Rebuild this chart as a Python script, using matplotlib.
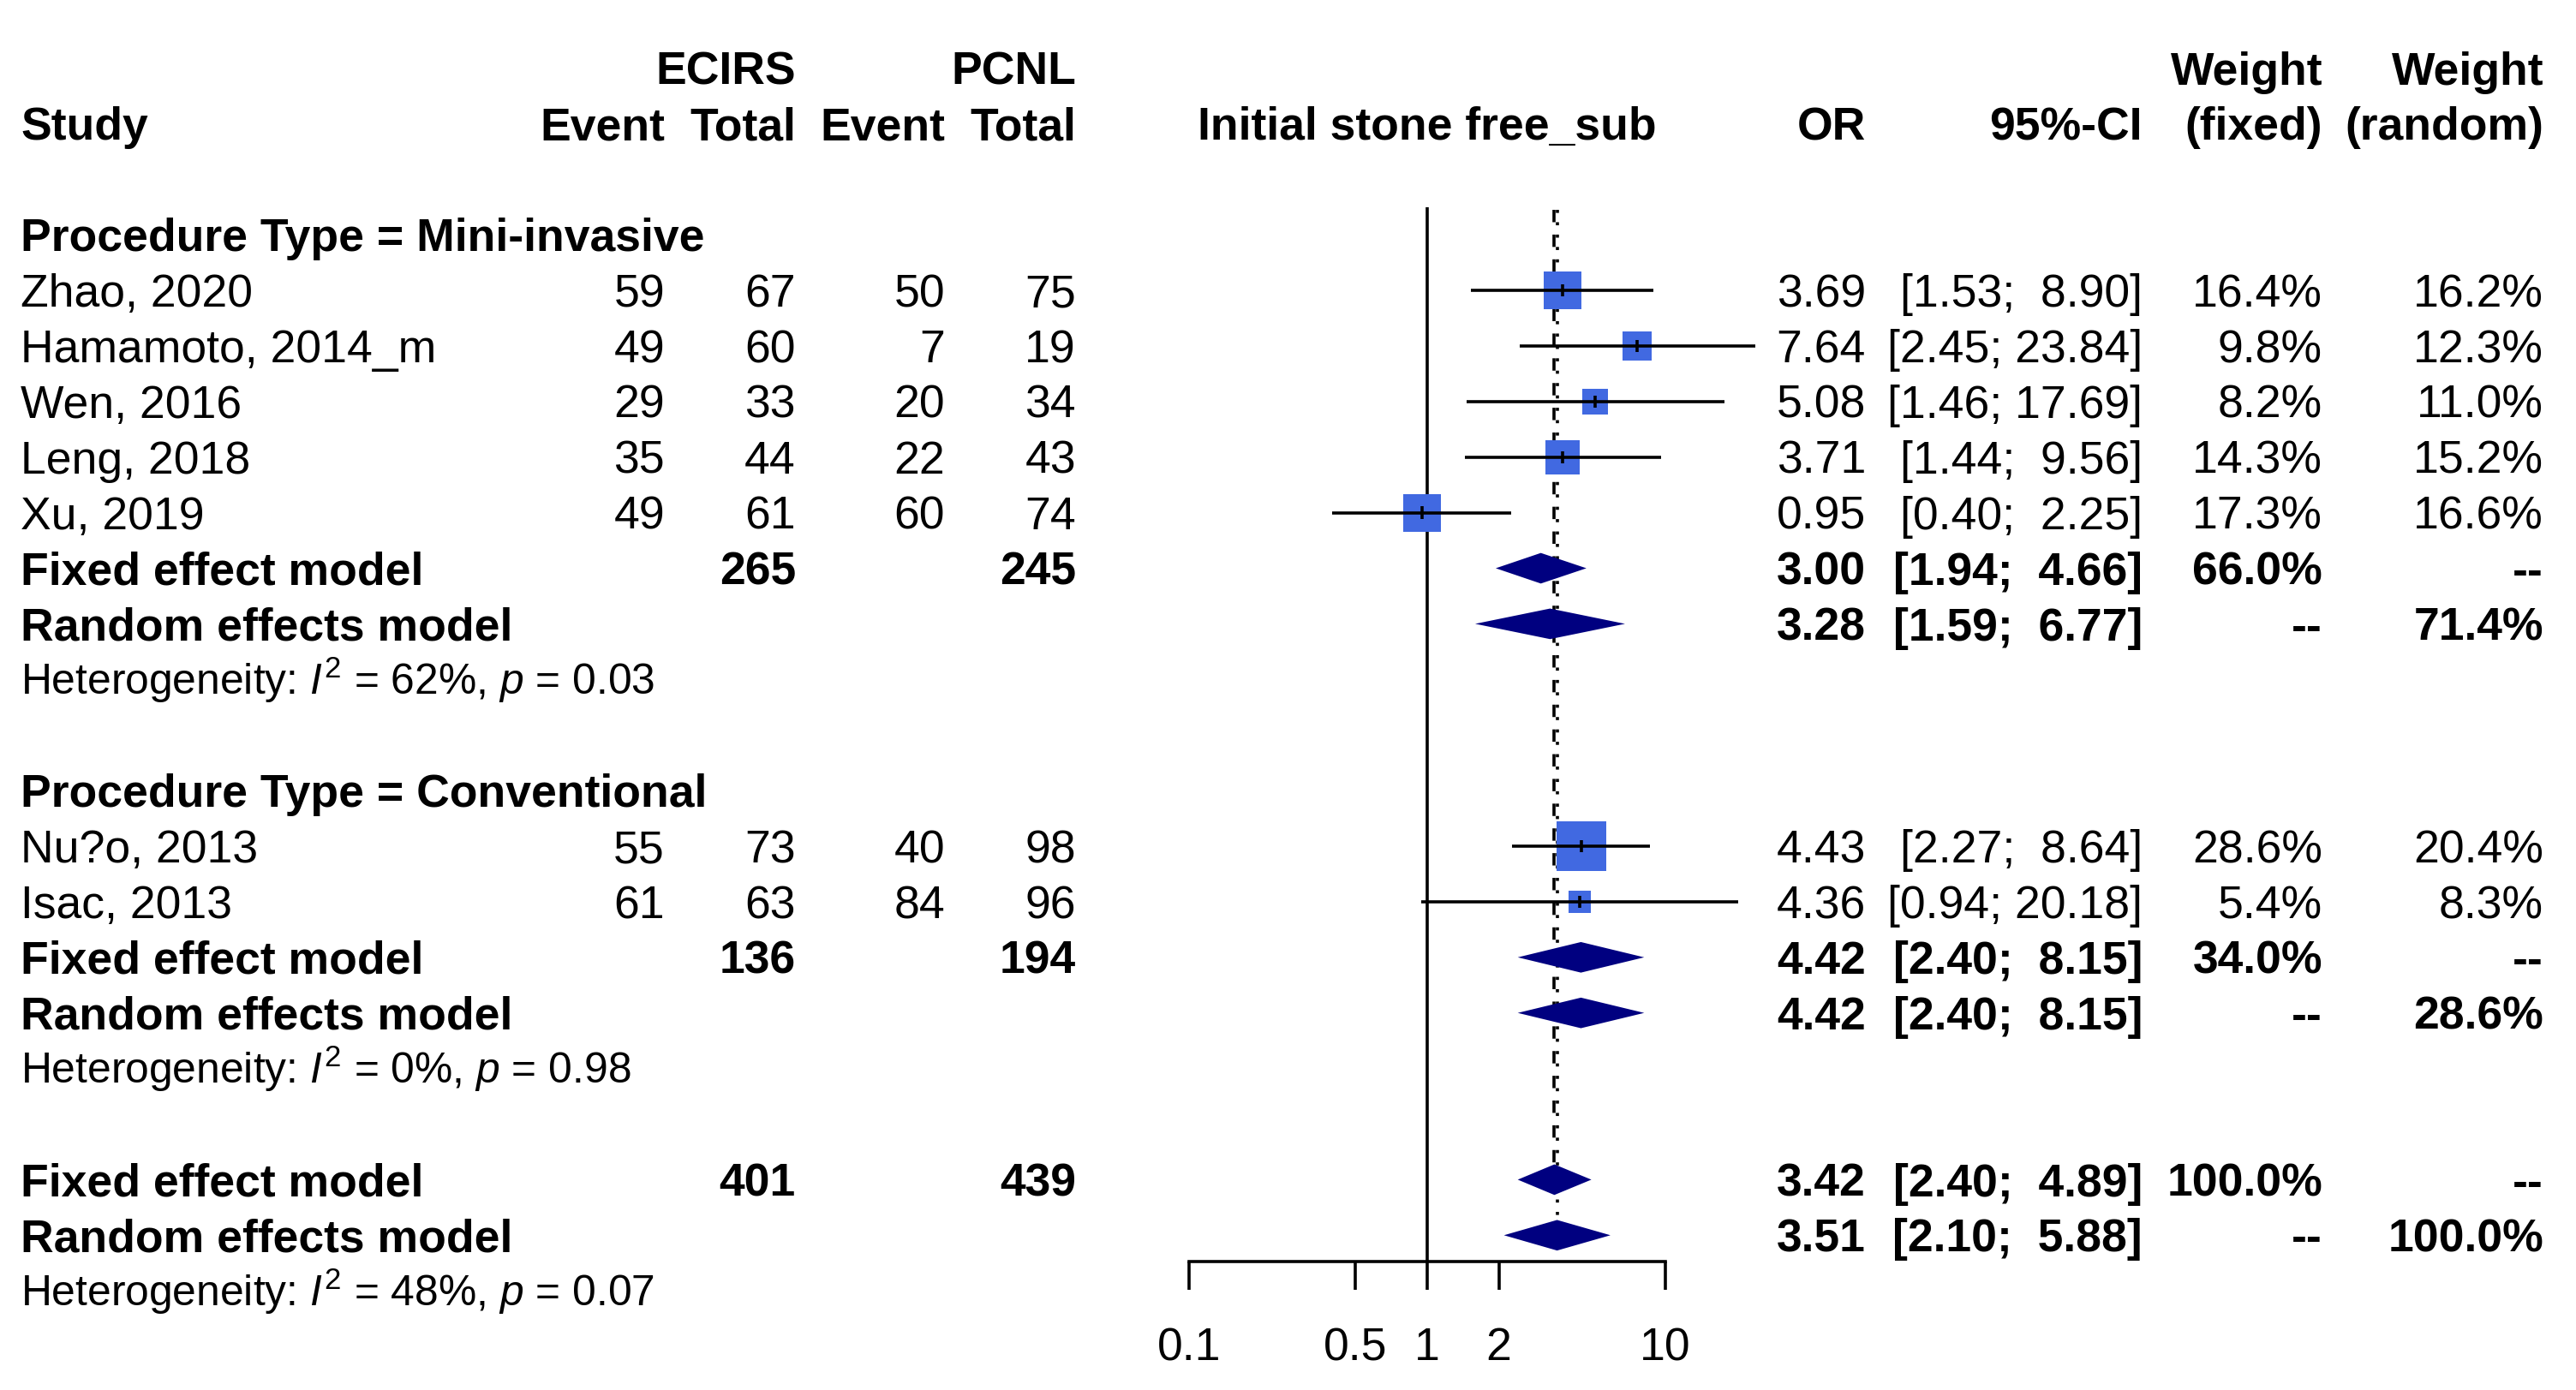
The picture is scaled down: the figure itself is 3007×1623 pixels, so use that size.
import numpy as np
import matplotlib.pyplot as plt

plt.rcParams['font.family'] = 'Liberation Sans'
plt.rcParams['mathtext.fontset'] = 'custom'
plt.rcParams['mathtext.rm'] = 'Liberation Sans'
plt.rcParams['mathtext.it'] = 'Liberation Sans:italic'

# ---- data ----
study = ["Zhao, 2020", "Hamamoto, 2014_m", "Wen, 2016", "Leng, 2018", "Xu, 2019",
         "Nu?o, 2013", "Isac, 2013"]
group = ["Mini-invasive"] * 5 + ["Conventional"] * 2
ecirs_event = [59, 49, 29, 35, 49, 55, 61]
ecirs_total = [67, 60, 33, 44, 61, 73, 63]
pcnl_event = [50, 7, 20, 22, 60, 40, 84]
pcnl_total = [75, 19, 34, 43, 74, 98, 96]
odds = [3.69, 7.64, 5.08, 3.71, 0.95, 4.43, 4.36]
ci_lo = [1.53, 2.45, 1.46, 1.44, 0.40, 2.27, 0.94]
ci_hi = [8.90, 23.84, 17.69, 9.56, 2.25, 8.64, 20.18]
w_fixed = [16.4, 9.8, 8.2, 14.3, 17.3, 28.6, 5.4]
w_random = [16.2, 12.3, 11.0, 15.2, 16.6, 20.4, 8.3]

subgroups = ["Mini-invasive", "Conventional"]
sub_fixed = [(3.00, 1.94, 4.66), (4.42, 2.40, 8.15)]
sub_random = [(3.28, 1.59, 6.77), (4.42, 2.40, 8.15)]
sub_wfixed = [66.0, 34.0]
sub_wrandom = [71.4, 28.6]
sub_i2 = [62, 0]
sub_p = [0.03, 0.98]

all_fixed = (3.42, 2.40, 4.89)
all_random = (3.51, 2.10, 5.88)
all_i2 = 48
all_p = 0.07

xticks = [0.1, 0.5, 1, 2, 10]
xticklabels = ["0.1", "0.5", "1", "2", "10"]

# ---- layout ----
W, H = 3007, 1623
PITCH = 64.9          # px per row
Y0 = 14.5             # px of row 0
FS = 38.5
FS_HET = 35.8
LW = 2.6
X_STUDY, X_EV_E, X_N_E, X_EV_C, X_N_C = 24, 776, 929, 1103, 1256
X_OR, X_CI, X_WF, X_WR = 2178, 2501, 2711, 2969
PX0, PX1 = 1388, 1944  # pixel position of 0.1 and 10

fig = plt.figure(figsize=(W / 100, H / 100), dpi=100)
ylim = ((H - Y0) / PITCH, -Y0 / PITCH)

tab = fig.add_axes([0, 0, 1, 1])
tab.set_xlim(0, W)
tab.set_ylim(*ylim)
tab.axis('off')

fp = fig.add_axes([PX0 / W, 0, (PX1 - PX0) / W, 1])
fp.set_xscale('log')
fp.set_xlim(0.1, 10)
fp.set_ylim(*ylim)
fp.patch.set_alpha(0)
for s in ['top', 'left', 'right']:
    fp.spines[s].set_visible(False)
fp.set_yticks([])
fp.minorticks_off()


def put(x, k, s, ha='right', bold=False, size=FS, ax=None):
    ax = ax or tab
    ax.text(x, k + 0.716 * size / 72 * 100 / 2 / PITCH, s, ha=ha, va='baseline',
            fontsize=size, fontweight='bold' if bold else 'normal')


def ci_txt(lo, hi):
    return "[%.2f; %5.2f]" % (lo, hi)


def pct(w):
    return "--" if w is None else "%.1f%%" % w


def diamond(k, est, lo, hi):
    h = 0.275
    fp.fill([lo, est, hi, est], [k, k - h, k, k + h], color='#000080', lw=0,
            clip_on=False, zorder=4)


def summary_rows(k, fx, rn, wf, wr, ne, nc):
    put(X_STUDY, k, "Fixed effect model", ha='left', bold=True)
    put(X_N_E, k, str(ne), bold=True)
    put(X_N_C, k, str(nc), bold=True)
    put(X_OR, k, "%.2f" % fx[0], bold=True)
    put(X_CI, k, ci_txt(fx[1], fx[2]), bold=True)
    put(X_WF, k, pct(wf), bold=True)
    put(X_WR, k, "--", bold=True)
    diamond(k, *fx)
    put(X_STUDY, k + 1, "Random effects model", ha='left', bold=True)
    put(X_OR, k + 1, "%.2f" % rn[0], bold=True)
    put(X_CI, k + 1, ci_txt(rn[1], rn[2]), bold=True)
    put(X_WF, k + 1, "--", bold=True)
    put(X_WR, k + 1, pct(wr), bold=True)
    diamond(k + 1, *rn)


def het(k, i2, p):
    put(X_STUDY, k, r"Heterogeneity: $\mathit{I}^{2}$ = %d%%, $\mathit{p}$ = %.2f" % (i2, p),
        ha='left', size=FS_HET)


# headers
put(X_N_E, 1, "ECIRS", bold=True)
put(X_N_C, 1, "PCNL", bold=True)
put(X_WF, 1, "Weight", bold=True)
put(X_WR, 1, "Weight", bold=True)
put(X_STUDY, 2, "Study", ha='left', bold=True)
put(X_EV_E, 2, "Event", bold=True)
put(X_N_E, 2, "Total", bold=True)
put(X_EV_C, 2, "Event", bold=True)
put(X_N_C, 2, "Total", bold=True)
put(1, 2, "Initial stone free_sub", ha='center', bold=True, ax=fp)
put(X_OR, 2, "OR", bold=True)
put(X_CI, 2, "95%-CI", bold=True)
put(X_WF, 2, "(fixed)", bold=True)
put(X_WR, 2, "(random)", bold=True)

row = 4
for g, name in enumerate(subgroups):
    put(X_STUDY, row, "Procedure Type = " + name, ha='left', bold=True)
    row += 1
    idx = [i for i in range(len(study)) if group[i] == name]
    for i in idx:
        put(X_STUDY, row, study[i], ha='left')
        put(X_EV_E, row, str(ecirs_event[i]))
        put(X_N_E, row, str(ecirs_total[i]))
        put(X_EV_C, row, str(pcnl_event[i]))
        put(X_N_C, row, str(pcnl_total[i]))
        put(X_OR, row, "%.2f" % odds[i])
        put(X_CI, row, ci_txt(ci_lo[i], ci_hi[i]))
        put(X_WF, row, pct(w_fixed[i]))
        put(X_WR, row, pct(w_random[i]))
        side = 10.8 * np.sqrt(w_fixed[i]) * 0.72
        fp.scatter([odds[i]], [row], marker='s', s=side ** 2, color='#4169E1',
                   linewidths=0, zorder=3, clip_on=False)
        fp.hlines(row, ci_lo[i], ci_hi[i], color='black', lw=LW, zorder=5, clip_on=False)
        fp.vlines(odds[i], row - 0.11, row + 0.11, color='black', lw=LW, zorder=5)
        row += 1
    summary_rows(row, sub_fixed[g], sub_random[g], sub_wfixed[g], sub_wrandom[g],
                 sum(ecirs_total[i] for i in idx), sum(pcnl_total[i] for i in idx))
    het(row + 2, sub_i2[g], sub_p[g])
    row += 4

summary_rows(row, all_fixed, all_random, 100.0, 100.0, sum(ecirs_total), sum(pcnl_total))
het(row + 2, all_i2, all_p)

# reference lines and axis
axis_y = row + 1.47
fp.vlines(1, 3.5, axis_y, color='black', lw=LW, zorder=2)
fp.plot([all_fixed[0]] * 2, [3.55, row - 0.275], color='black', lw=LW,
        ls=(0, (4, 4)), zorder=2)
fp.plot([all_random[0]] * 2, [3.55, row + 1 - 0.275], color='black', lw=LW,
        ls=(0, (1, 3)), zorder=2)

fp.spines['bottom'].set_position(('data', axis_y))
fp.spines['bottom'].set_linewidth(LW)
fp.set_xticks(xticks)
fp.set_xticklabels(xticklabels, fontsize=FS)
fp.tick_params(axis='x', direction='out', length=24, width=LW, pad=31)

fig.savefig('out.png', dpi=100)
